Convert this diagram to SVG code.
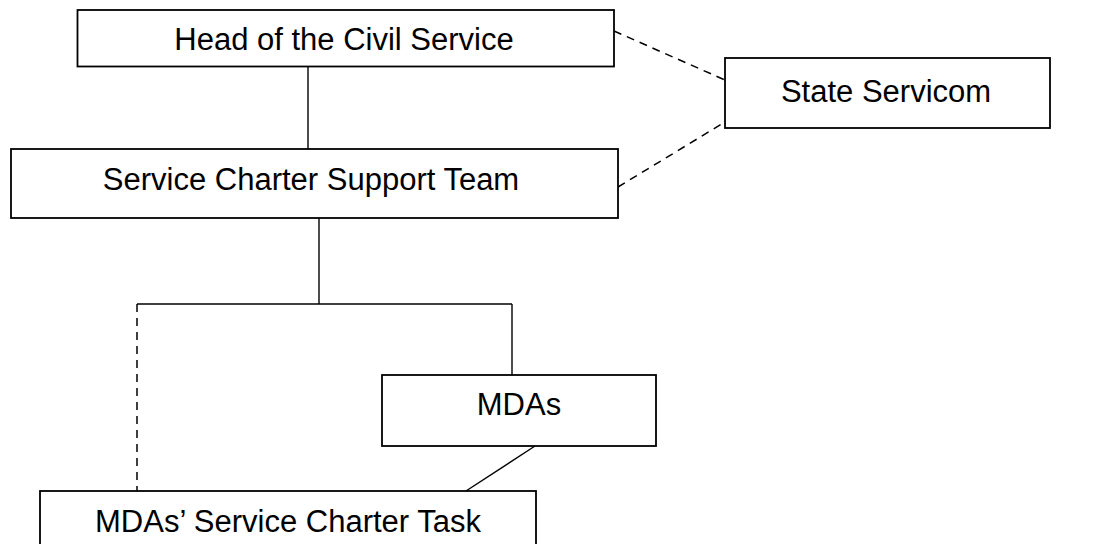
<svg xmlns="http://www.w3.org/2000/svg" width="1108" height="544" viewBox="0 0 1108 544">
<style>
.box{fill:#fff;stroke:#000;stroke-width:1.8}
.lbl{font-family:"Liberation Sans",Arial,sans-serif;font-size:31px;fill:#000;text-anchor:middle}
.ln{fill:none;stroke:#000;stroke-width:1.4}
.dash{fill:none;stroke:#000;stroke-width:1.5;stroke-dasharray:8 6}
</style>
<rect width="1108" height="544" fill="#fff"/>
<g id="connectors">
<line class="ln" x1="308" y1="67" x2="308" y2="149"/>
<line class="ln" x1="319" y1="218" x2="319" y2="304"/>
<line class="ln" x1="137" y1="304" x2="512" y2="304"/>
<line class="ln" x1="512" y1="304" x2="512" y2="375"/>
<line class="dash" x1="137" y1="304" x2="137" y2="491"/>
<line class="ln" x1="535" y1="446" x2="466" y2="491"/>
<line class="dash" x1="614" y1="31" x2="725" y2="80"/>
<line class="dash" x1="618" y1="187" x2="725" y2="122"/>
</g>
<g id="head">
<rect class="box" x="77.5" y="10" width="536.5" height="56.5"/>
<text class="lbl" x="344" y="50">Head of the Civil Service</text>
</g>
<g id="servicom">
<rect class="box" x="725" y="58" width="325" height="70"/>
<text class="lbl" x="886" y="102">State Servicom</text>
</g>
<g id="scst">
<rect class="box" x="11" y="149" width="607" height="69"/>
<text class="lbl" x="311" y="190">Service Charter Support Team</text>
</g>
<g id="mdas">
<rect class="box" x="382" y="375" width="274" height="71"/>
<text class="lbl" x="519" y="415">MDAs</text>
</g>
<g id="task">
<rect class="box" x="40" y="491" width="496" height="70"/>
<text class="lbl" x="288" y="532">MDAs’ Service Charter Task</text>
</g>
</svg>
